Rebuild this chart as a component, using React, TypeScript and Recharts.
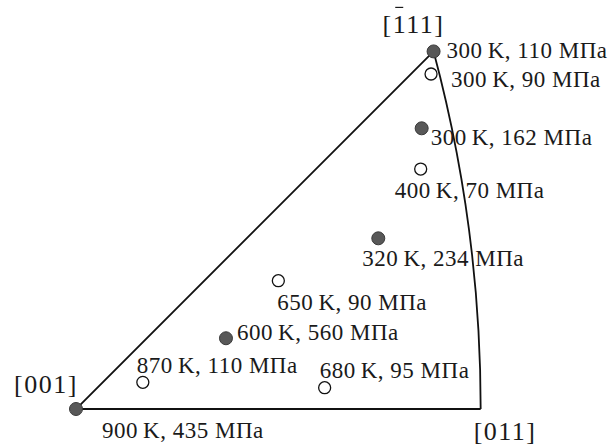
import React from 'react';
import { ComposedChart, Line, Scatter, XAxis, YAxis } from 'recharts';

// Corners of the standard stereographic triangle (projection coordinates)
const poleLabels = ['[001]', '[111]', '[011]'];
const poleU = [0, 0.366, 0.4142];
const poleV = [0, 0.366, 0];
const poleBar = [false, true, false];

// Loading axes of the specimens
const pointU = [0.366, 0.3634, 0.3538, 0.3528, 0.3094, 0.2071, 0.1535, 0.0684, 0.2545, 0];
const pointV = [0.366, 0.3429, 0.2873, 0.2456, 0.1747, 0.1313, 0.0724, 0.0273, 0.0218, 0];
const temperatures = [300, 300, 300, 400, 320, 650, 600, 870, 680, 900];
const stresses = [110, 90, 162, 70, 234, 90, 560, 110, 95, 435];
const isFilled = [true, false, true, false, true, false, true, false, false, true];

// label placement around each marker, px
const labelDx = [13, 20, 9, -26, -16, -1, 11, -6, -5, 26];
const labelDy = [7, 13, 17, 29, 28, 29, 2, -9, -10, 29];
const poleDx = [-62, -51, -7];
const poleDy = [-16, -18, 31];

const W = 611;
const H = 446;
const PX = 977; // px per projection unit
const X0 = 76;
const Y0 = 409;

const edgeData = [
  { u: poleU[2], v: poleV[2] },
  { u: poleU[0], v: poleV[0] },
  { u: poleU[1], v: poleV[1] },
];
const arcData = [
  { u: poleU[1], v: poleV[1] },
  { u: poleU[2], v: poleV[2] },
];

const points = pointU.map((u, i) => ({
  u,
  v: pointV[i],
  filled: isFilled[i],
  label: `${temperatures[i]}\u2009K, ${stresses[i]} МПа`,
  i,
}));

const poles = poleU.map((u, i) => ({ u, v: poleV[i], label: poleLabels[i], bar: poleBar[i], i }));

// d3 curve: joins two points with a circular arc spanning spanDeg degrees
const arcCurve = (spanDeg: number) => (context: any) => {
  let pts: number[][] = [];
  return {
    areaStart() {},
    areaEnd() {},
    lineStart() {
      pts = [];
    },
    point(x: number, y: number) {
      pts.push([+x, +y]);
    },
    lineEnd() {
      if (pts.length < 2) return;
      const [a, b] = pts;
      const dx = b[0] - a[0];
      const dy = b[1] - a[1];
      const c = Math.hypot(dx, dy);
      const half = (spanDeg * Math.PI) / 360;
      const h = (c / 2) * Math.tan(half);
      const tx = (a[0] + b[0]) / 2 + (dy / c) * h;
      const ty = (a[1] + b[1]) / 2 - (dx / c) * h;
      context.moveTo(a[0], a[1]);
      context.arcTo(tx, ty, b[0], b[1], c / (2 * Math.sin(half)));
    },
  };
};

const FONT = '"Liberation Serif", "Times New Roman", serif';

const PointMark = (props: any) => {
  const { cx, cy, payload } = props;
  if (cx == null || cy == null) return null;
  const k = payload.i;
  return (
    <g>
      <circle
        cx={cx}
        cy={cy}
        r={payload.filled ? 6.5 : 6}
        fill={payload.filled ? '#585858' : '#fff'}
        stroke={payload.filled ? '#3a3a3a' : '#111'}
        strokeWidth={payload.filled ? 1 : 1.3}
      />
      <text
        x={cx + labelDx[k]}
        y={cy + labelDy[k]}
        fontFamily={FONT}
        fontSize={23}
        letterSpacing={0.5}
        fill="#1a1a1a"
      >
        {payload.label}
      </text>
    </g>
  );
};

const PoleLabel = (props: any) => {
  const { cx, cy, payload } = props;
  if (cx == null || cy == null) return null;
  const k = payload.i;
  const fs = 26;
  const ls = 1.5;
  const x = cx + poleDx[k];
  const y = cy + poleDy[k];
  // overbar sits over the first digit
  const barX = x + 0.333 * fs + ls + 0.25 * fs;
  return (
    <g>
      <text x={x} y={y} fontFamily={FONT} fontSize={fs} letterSpacing={ls} fill="#1a1a1a">
        {payload.label}
      </text>
      {payload.bar && (
        <line x1={barX - 4} x2={barX + 4} y1={y - 26} y2={y - 26} stroke="#1a1a1a" strokeWidth={1.2} />
      )}
    </g>
  );
};

export default function App() {
  return (
    <div style={{ width: W, height: H, background: '#fff' }}>
      <style>{'body{margin:0}'}</style>
      <ComposedChart width={W} height={H} margin={{ top: 0, right: 0, bottom: 0, left: 0 }}>
        <XAxis
          type="number"
          dataKey="u"
          domain={[-X0 / PX, (W - X0) / PX]}
          allowDataOverflow
          hide
        />
        <YAxis
          type="number"
          dataKey="v"
          domain={[(Y0 - H) / PX, Y0 / PX]}
          allowDataOverflow
          hide
        />
        <Line
          data={edgeData}
          dataKey="v"
          type="linear"
          stroke="#111"
          strokeWidth={1.8}
          dot={false}
          activeDot={false}
          isAnimationActive={false}
        />
        <Line
          data={arcData}
          dataKey="v"
          type={arcCurve(15) as any}
          stroke="#111"
          strokeWidth={1.8}
          dot={false}
          activeDot={false}
          isAnimationActive={false}
        />
        <Scatter data={poles} shape={PoleLabel} isAnimationActive={false} />
        <Scatter data={points} shape={PointMark} isAnimationActive={false} />
      </ComposedChart>
    </div>
  );
}
